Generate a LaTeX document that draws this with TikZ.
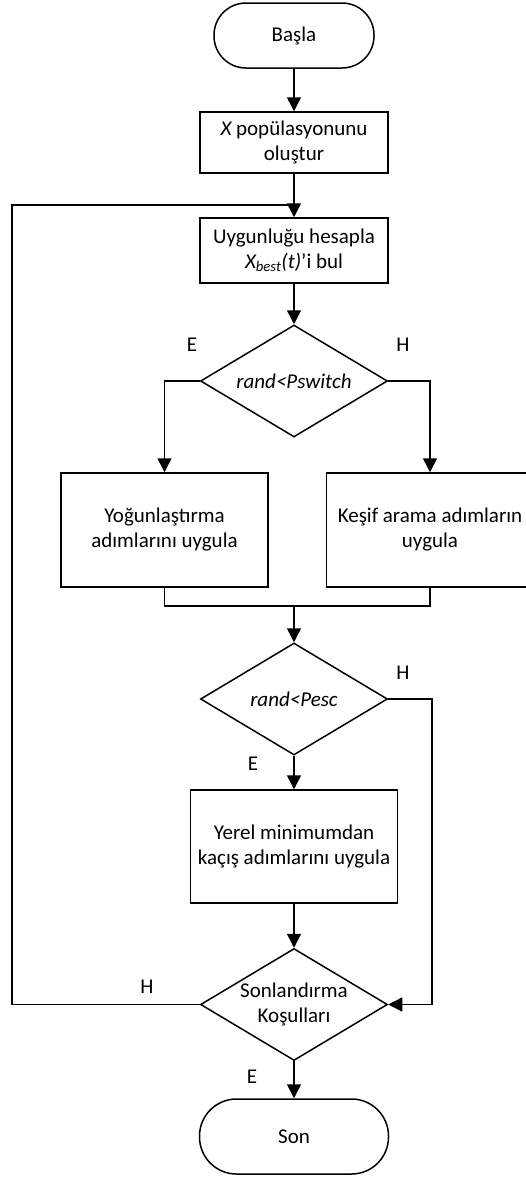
\documentclass[tikz,border=0pt]{standalone}
\usepackage{fontspec}
\setmainfont{Carlito}
\usetikzlibrary{shapes.geometric,arrows.meta}
\newcommand{\flfont}{\fontsize{21pt}{25pt}\selectfont}
\tikzset{
  fbox/.style={rectangle, draw, line width=1.5pt, inner sep=2pt,
               align=center, font=\flfont},
  fterm/.style={fbox, rounded corners=32pt},
  fdec/.style={diamond, draw, line width=1.5pt, aspect=1.67, inner sep=-10pt,
               minimum width=187pt, minimum height=112pt, align=center, font=\flfont},
  flabel/.style={inner sep=0pt, font=\flfont},
  fline/.style={line width=1.5pt},
  farrow/.style={fline, -{Triangle[length=14pt,width=14pt]}}
}

\begin{document}
\begin{tikzpicture}[x=1pt, y=-1pt]
  \useasboundingbox (0,0) rectangle (526,1178);
  \node[fterm, minimum width=160pt, minimum height=65pt] (start) at (294,35.5) {Başla};
  \node[fbox, minimum width=188pt, minimum height=61pt] (pop) at (294,142.5) {{\itshape X} popülasyonunu\\oluştur};
  \node[fbox, minimum width=188pt, minimum height=65pt] (fit) at (294,250.5) {Uygunluğu hesapla\\{\itshape X\textsubscript{best}(t)}’i bul};
  \node[fdec] (sw) at (294,381) {\itshape rand<Pswitch};
  \node[fbox, minimum width=207pt, minimum height=114pt] (exploit) at (164.5,530) {Yoğunlaştırma\\adımlarını uygula};
  \node[fbox, minimum width=207pt, minimum height=114pt] (explore) at (430,530) {Keşif arama adımların\\uygula};
  \node[fdec] (esc) at (294,699) {\itshape rand<Pesc};
  \node[fbox, minimum width=207pt, minimum height=113pt] (local) at (294,846.5) {Yerel minimumdan\\kaçış adımlarını uygula};
  \node[fdec] (stop) at (294,1004.5) {Sonlandırma\\Koşulları};
  \node[fterm, rounded corners=37pt, minimum width=189pt, minimum height=75pt] (end) at (294,1136.5) {Son};

  \coordinate (join) at (294,606);
  \coordinate (escR) at (432,699);
  \coordinate (loopT) at (12,205);
  \coordinate (merge) at (294,205);

  \draw[farrow] (start) -- (pop);
  \draw[farrow] (pop) -- (fit);
  \draw[farrow] (fit) -- (sw);
  \draw[farrow] (sw.west) -| (exploit);
  \draw[farrow] (sw.east) -| (explore);
  \draw[fline] (exploit.south) |- (join) -| (explore.south);
  \draw[farrow] (join) -- (esc);
  \draw[farrow] (esc) -- (local);
  \draw[farrow] (esc.east) -- (escR) |- (stop.east);
  \draw[farrow] (local) -- (stop);
  \draw[farrow] (stop) -- (end);
  \draw[fline] (stop.west) -| (loopT) -- (merge);

  \node[flabel] (e1) at (192,345) {E};
  \node[flabel] (h1) at (403,345) {H};
  \node[flabel] (h2) at (403,673) {H};
  \node[flabel] (e2) at (253,764) {E};
  \node[flabel] (h3) at (147,987) {H};
  \node[flabel] (e3) at (252,1077) {E};
\end{tikzpicture}
\end{document}
